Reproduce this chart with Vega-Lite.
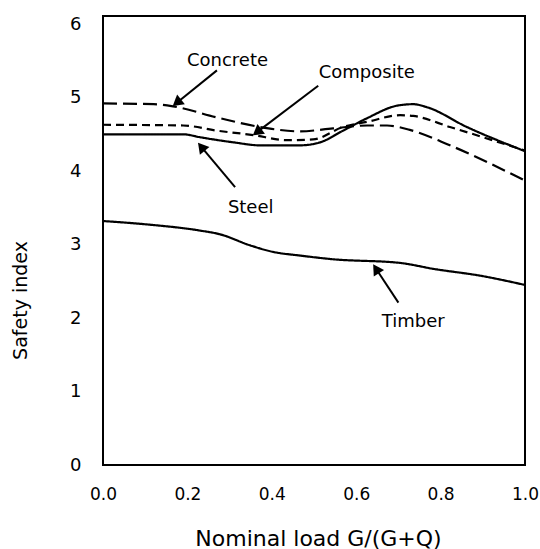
{
  "$schema": "https://vega.github.io/schema/vega-lite/v6.json",
  "autosize": "none",
  "width": 422,
  "height": 449,
  "padding": {"left": 103, "top": 16, "right": 15, "bottom": 84},
  "background": "white",
  "config": {
    "view": {"stroke": "black", "strokeWidth": 2},
    "font": "DejaVu Sans",
    "axis": {"grid": false, "ticks": false, "domain": false, "labelFont": "DejaVu Sans", "titleFont": "DejaVu Sans", "labelColor": "black", "titleColor": "black", "titleFontWeight": "normal", "labelFlush": false, "labelOverlap": false}
  },
  "datasets": {
    "curves": [
      {"series": "Steel", "x": 0.0, "y": 4.50},
      {"series": "Steel", "x": 0.10, "y": 4.50},
      {"series": "Steel", "x": 0.19, "y": 4.50},
      {"series": "Steel", "x": 0.23, "y": 4.46},
      {"series": "Steel", "x": 0.31, "y": 4.39},
      {"series": "Steel", "x": 0.372, "y": 4.35},
      {"series": "Steel", "x": 0.467, "y": 4.35},
      {"series": "Steel", "x": 0.514, "y": 4.39},
      {"series": "Steel", "x": 0.569, "y": 4.55},
      {"series": "Steel", "x": 0.626, "y": 4.72},
      {"series": "Steel", "x": 0.697, "y": 4.89},
      {"series": "Steel", "x": 0.735, "y": 4.91},
      {"series": "Steel", "x": 0.767, "y": 4.87},
      {"series": "Steel", "x": 0.862, "y": 4.60},
      {"series": "Steel", "x": 1.0, "y": 4.27},
      {"series": "Concrete", "x": 0.0, "y": 4.92},
      {"series": "Concrete", "x": 0.12, "y": 4.91},
      {"series": "Concrete", "x": 0.166, "y": 4.88},
      {"series": "Concrete", "x": 0.27, "y": 4.73},
      {"series": "Concrete", "x": 0.372, "y": 4.60},
      {"series": "Concrete", "x": 0.467, "y": 4.54},
      {"series": "Concrete", "x": 0.545, "y": 4.58},
      {"series": "Concrete", "x": 0.626, "y": 4.62},
      {"series": "Concrete", "x": 0.673, "y": 4.62},
      {"series": "Concrete", "x": 0.727, "y": 4.56},
      {"series": "Concrete", "x": 0.822, "y": 4.35},
      {"series": "Concrete", "x": 1.0, "y": 3.87},
      {"series": "Composite", "x": 0.0, "y": 4.63},
      {"series": "Composite", "x": 0.19, "y": 4.62},
      {"series": "Composite", "x": 0.27, "y": 4.55},
      {"series": "Composite", "x": 0.356, "y": 4.49},
      {"series": "Composite", "x": 0.436, "y": 4.42},
      {"series": "Composite", "x": 0.498, "y": 4.43},
      {"series": "Composite", "x": 0.569, "y": 4.60},
      {"series": "Composite", "x": 0.626, "y": 4.67},
      {"series": "Composite", "x": 0.704, "y": 4.76},
      {"series": "Composite", "x": 0.735, "y": 4.75},
      {"series": "Composite", "x": 0.822, "y": 4.60},
      {"series": "Composite", "x": 1.0, "y": 4.28},
      {"series": "Timber", "x": 0.0, "y": 3.32},
      {"series": "Timber", "x": 0.111, "y": 3.27},
      {"series": "Timber", "x": 0.23, "y": 3.19},
      {"series": "Timber", "x": 0.277, "y": 3.14},
      {"series": "Timber", "x": 0.348, "y": 2.99},
      {"series": "Timber", "x": 0.403, "y": 2.90},
      {"series": "Timber", "x": 0.467, "y": 2.85},
      {"series": "Timber", "x": 0.545, "y": 2.80},
      {"series": "Timber", "x": 0.704, "y": 2.75},
      {"series": "Timber", "x": 0.782, "y": 2.67},
      {"series": "Timber", "x": 0.90, "y": 2.57},
      {"series": "Timber", "x": 1.0, "y": 2.45}
    ],
    "notes": [
      {"label": "Concrete", "tx": 0.295, "ty": 5.50, "ax": 0.27, "ay": 5.37, "hx": 0.175, "hy": 4.93},
      {"label": "Composite", "tx": 0.625, "ty": 5.34, "ax": 0.51, "ay": 5.16, "hx": 0.365, "hy": 4.53},
      {"label": "Steel", "tx": 0.35, "ty": 3.50, "ax": 0.313, "ay": 3.78, "hx": 0.233, "hy": 4.33},
      {"label": "Timber", "tx": 0.735, "ty": 1.94, "ax": 0.70, "ay": 2.21, "hx": 0.647, "hy": 2.67}
    ]
  },
  "layer": [
    {
      "data": {"name": "curves"},
      "mark": {"type": "line", "color": "black", "strokeWidth": 2.2, "interpolate": "monotone"},
      "encoding": {
        "x": {"field": "x", "type": "quantitative", "scale": {"domain": [0, 1], "nice": false, "zero": false},
          "axis": {"values": [0, 0.2, 0.4, 0.6, 0.8, 1.0], "format": ".1f", "labelFontSize": 17, "labelPadding": 21,
            "title": "Nominal load G/(G+Q)", "titleFontSize": 22, "titleX": 215, "titleY": 73, "titleBaseline": "middle", "titleAlign": "center"}},
        "y": {"field": "y", "type": "quantitative", "scale": {"domain": [0, 6.11], "nice": false},
          "axis": {"values": [0, 1, 2, 3, 4, 5, 6], "format": "d", "labelFontSize": 18, "labelPadding": 22,
            "title": "Safety index", "titleFontSize": 19, "titleX": -83, "titleY": 284, "titleAngle": -90, "titleBaseline": "middle", "titleAlign": "center"}},
        "detail": {"field": "series"},
        "strokeDash": {"field": "series", "type": "nominal",
          "scale": {"domain": ["Steel", "Timber", "Concrete", "Composite"], "range": [[1, 0], [1, 0], [14, 6], [8, 5]]},
          "legend": null}
      }
    },
    {
      "data": {"name": "notes"},
      "mark": {"type": "rule", "color": "black", "strokeWidth": 2},
      "encoding": {
        "x": {"field": "ax", "type": "quantitative"},
        "y": {"field": "ay", "type": "quantitative"},
        "x2": {"field": "hx"},
        "y2": {"field": "hy"}
      }
    },
    {
      "data": {"name": "notes"},
      "mark": {"type": "point", "shape": "triangle-up", "filled": true, "color": "black", "size": 150, "opacity": 1},
      "encoding": {
        "x": {"field": "hx", "type": "quantitative"},
        "y": {"field": "hy", "type": "quantitative"},
        "angle": {
          "condition": [
            {"test": "datum.label === 'Concrete'", "value": 231},
            {"test": "datum.label === 'Composite'", "value": 232},
            {"test": "datum.label === 'Steel'", "value": 321}
          ],
          "value": 327
        }
      }
    },
    {
      "data": {"name": "notes"},
      "mark": {"type": "text", "color": "black", "fontSize": 18, "font": "DejaVu Sans", "align": "center", "baseline": "middle"},
      "encoding": {
        "x": {"field": "tx", "type": "quantitative"},
        "y": {"field": "ty", "type": "quantitative"},
        "text": {"field": "label"}
      }
    }
  ]
}
